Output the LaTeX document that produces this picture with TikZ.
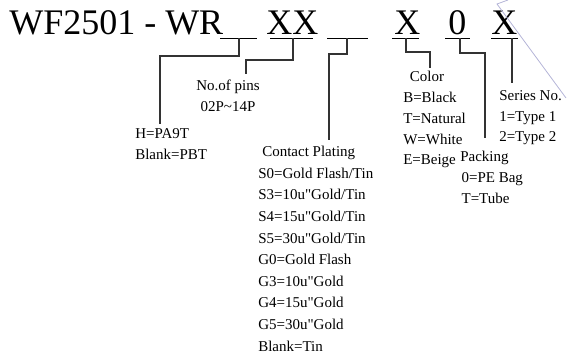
\documentclass[tikz,border=0pt]{standalone}
\usepackage{fontspec}
\setmainfont{Liberation Serif}
\tikzset{
  partno/.style={anchor=base west,inner sep=0pt,font=\fontsize{27}{31}\selectfont},
  uline/.style={line width=0.6pt},
  lead/.style={line width=0.9pt,color=black!80},
  legend/.style={anchor=north west,inner sep=0pt,align=left,font=\fontsize{11.25}{15.6}\selectfont},
}
\newcommand{\qd}{\textquotedbl{}}
\begin{document}
\begin{tikzpicture}[x=0.75pt,y=0.75pt,yscale=-1,xscale=1]
\path[use as bounding box] (0,0) rectangle (567,361);

% Part number
\node[partno] (base) at (9,34) {WF2501 - WR};
\node[partno] (pins) at (266,34) {XX};
\node[partno] (color) at (394,34) {X};
\node[partno] (pack) at (448,34) {0};
\node[partno] (series) at (491,34) {X};

%Straight Lines: underlines
\draw[uline] (220,38) -- (257,38);
\draw[uline] (270,38) -- (313,38);
\draw[uline] (327,38) -- (368,38);
\draw[uline] (392,38) -- (419,38);
\draw[uline] (445,38) -- (470,38);
\draw[uline] (491,38) -- (518,38);

%Straight Lines: grey stroke
\draw[color={rgb, 255:red, 180; green, 180; blue, 215 },line width=0.6pt] (508,0) -- (497,4) -- (566,98);

% Text Node
\node[legend] (housing) at (135,128) {H=PA9T\\Blank=PBT};
% Text Node
\node[legend,align=center,anchor=north] (pinlist) at (228,80) {No.of pins\\02P\textasciitilde14P};
% Text Node
\node[legend,font=\fontsize{11.25}{16.2}\selectfont] (plating) at (258,146) {\hspace{3pt}Contact Plating\\S0=Gold Flash/Tin\\S3=10u\qd Gold/Tin\\S4=15u\qd Gold/Tin\\S5=30u\qd Gold/Tin\\G0=Gold Flash\\G3=10u\qd Gold\\G4=15u\qd Gold\\G5=30u\qd Gold\\Blank=Tin};
% Text Node
\node[legend] (colorlist) at (403,71) {\hspace{5pt}Color\\B=Black\\T=Natural\\W=White\\E=Beige};
% Text Node
\node[legend] (packlist) at (460,151) {Packing\\\hspace{1pt}0=PE Bag\\\hspace{1pt}T=Tube};
% Text Node
\node[legend] (serieslist) at (499,90) {Series No.\\1=Type 1\\2=Type 2};

%Straight Lines: leaders
\draw[lead] (239,38) -- (239,56) -- (160,56) -- (160,124);
\draw[lead] (293,38) -- (293,60) -- (246,60) -- (246,74);
\draw[lead] (347,38) -- (347,54) -- (329,54) -- (329,140);
\draw[lead] (406,38) -- (406,52) -- (430,52) -- (430,68);
\draw[lead] (460,38) -- (460,53) -- (485,53) -- (485,138);
\draw[lead] (512,38) -- (512,83);

\end{tikzpicture}
\end{document}
